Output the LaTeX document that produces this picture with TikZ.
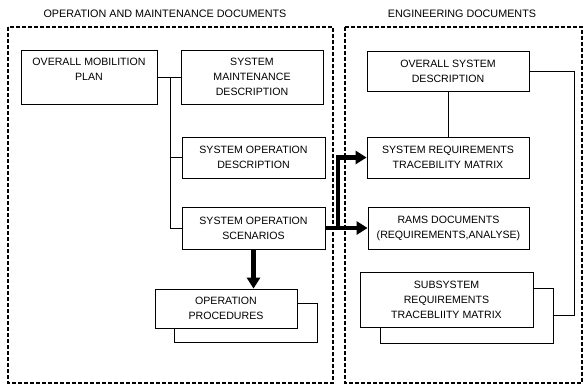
\documentclass[tikz,border=0pt]{standalone}
\usepackage{fontspec}
\setmainfont{Liberation Sans}
\usetikzlibrary{positioning,arrows.meta}

\begin{document}
\begin{tikzpicture}[x=1pt,y=-1pt,
    doc/.style={draw,line width=0.8pt,fill=white,align=center,inner sep=2pt,
        font=\fontsize{10.6}{15}\selectfont},
    frame/.style={line width=1.3pt,dash pattern=on 4pt off 2pt},
    heading/.style={font=\fontsize{10.8}{12}\selectfont},
    link/.style={line width=0.8pt},
    bigarrow/.style={line width=4.5pt,-{Triangle[length=11pt,width=13pt]}}]
    \useasboundingbox (0,0) rectangle (584,386);
    \draw[frame] (8,27) rectangle (333,383);
    \draw[frame] (345,27) rectangle (582,383);
    \node[heading] (omtitle) at (165,14) {OPERATION AND MAINTENANCE DOCUMENTS};
    \node[heading] (engtitle) at (462,14) {ENGINEERING DOCUMENTS};
    \node[doc,minimum width=136pt,minimum height=54pt,text depth=16pt] (plan) at (89,77) {OVERALL MOBILITION\\PLAN};
    \node[doc,minimum width=142pt,minimum height=54pt] (maint) at (252,77) {SYSTEM\\MAINTENANCE\\DESCRIPTION};
    \node[doc,minimum width=143pt,minimum height=41pt] (opdesc) at (253.5,157.5) {SYSTEM OPERATION\\DESCRIPTION};
    \node[doc,minimum width=143pt,minimum height=42pt] (scen) at (253.5,228) {SYSTEM OPERATION\\SCENARIOS};
    \node[doc,minimum width=143pt,minimum height=39pt] (procback) at (246,322.5) {};
    \node[doc,minimum width=142pt,minimum height=39pt] (proc) at (226,308.5) {OPERATION\\PROCEDURES};
    \node[doc,minimum width=162pt,minimum height=40pt] (osd) at (448,71) {OVERALL SYSTEM\\DESCRIPTION};
    \node[doc,minimum width=162pt,minimum height=41pt] (srtm) at (448,157.5) {SYSTEM REQUIREMENTS\\TRACEBILITY MATRIX};
    \node[doc,minimum width=161pt,minimum height=42pt] (rams) at (448.5,228) {RAMS DOCUMENTS\\(REQUIREMENTS,ANALYSE)};
    \node[doc,minimum width=173pt,minimum height=55pt] (subback) at (467,315.5) {};
    \node[doc,minimum width=173pt,minimum height=55pt] (sub) at (446.5,299.5) {SUBSYSTEM\\REQUIREMENTS\\TRACEBLIITY MATRIX};
    \coordinate (bus) at (170,77);
    \coordinate (split) at (338,228);
    \coordinate (loop) at (574,71);
    \draw[link] (plan.east) -- (maint.west);
    \draw[link] (bus) |- (scen.west);
    \draw[link] (bus |- opdesc.west) -- (opdesc.west);
    \draw[link] (osd.south) -- (srtm.north);
    \draw[link] (osd.east) -- (loop) |- (subback.east);
    \draw[bigarrow] (scen.east) -- (rams.west);
    \draw[bigarrow] (split) |- (srtm.west);
    \draw[bigarrow] (scen.south) -- (scen.south |- proc.north);
\end{tikzpicture}
\end{document}
